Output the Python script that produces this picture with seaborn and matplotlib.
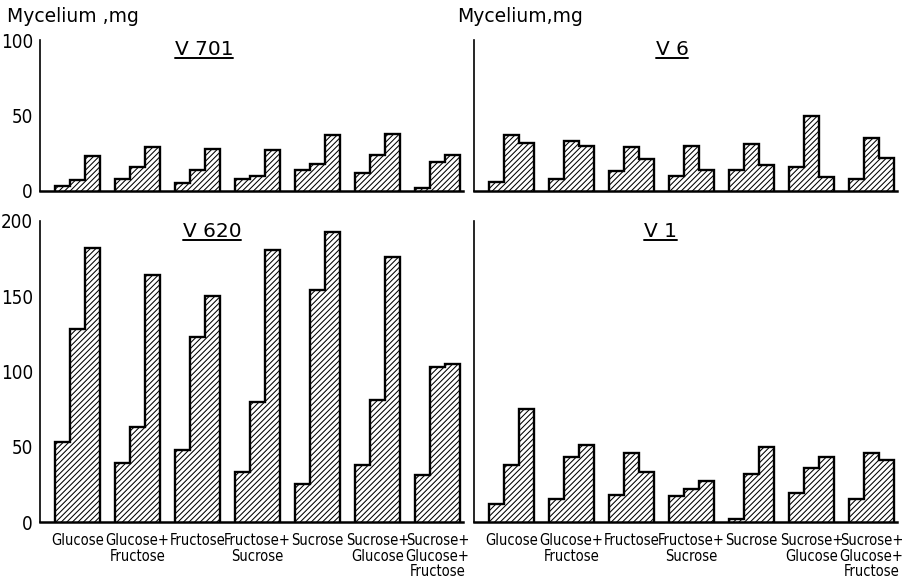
import matplotlib
matplotlib.use("Agg")
import matplotlib.pyplot as plt
from matplotlib import font_manager
import pandas as pd
import seaborn as sns

# Carbon sources tested
sugars = ["Glucose", "Glucose+\nFructose", "Fructose", "Fructose+\nSucrose",
          "Sucrose", "Sucrose+\nGlucose", "Sucrose+\nGlucose+\nFructose"]

# Mycelium dry weight (mg) at three successive harvests, per carbon source
v701 = [[3, 7, 23], [8, 16, 29], [5, 14, 28], [8, 10, 27],
        [14, 18, 37], [12, 24, 38], [2, 19, 24]]
v6 = [[6, 37, 32], [8, 33, 30], [13, 29, 21], [10, 30, 14],
      [14, 31, 17], [16, 50, 9], [8, 35, 22]]
v620 = [[53, 128, 182], [39, 63, 164], [48, 123, 150], [33, 80, 181],
        [25, 154, 193], [38, 81, 176], [31, 103, 105]]
v1 = [[12, 38, 75], [15, 43, 51], [18, 46, 33], [17, 22, 27],
      [2, 32, 50], [19, 36, 43], [15, 46, 41]]

sns.set_theme(style="white")
plt.rcParams["hatch.linewidth"] = 0.75
plt.rcParams["font.family"] = ["DejaVu Sans"]

# pick a narrow face for the tick labels if one is available
entries = font_manager.fontManager.ttflist
names = {f.name for f in entries}
condensed_dejavu = any(f.name == "DejaVu Sans" and str(f.stretch) in ("condensed", "semi-condensed", "500")
                       for f in entries)
if "Liberation Sans Narrow" in names:
    NARROW = dict(family=["Liberation Sans Narrow", "DejaVu Sans"], stretch="normal")
    XSIZE, YSIZE = 12, 14
elif condensed_dejavu:
    NARROW = dict(family=["DejaVu Sans"], stretch="condensed")
    XSIZE, YSIZE = 10.5, 13.5
else:
    NARROW = dict(family=["Liberation Sans", "DejaVu Sans"], stretch="normal")
    XSIZE, YSIZE = 9.4, 12

W, H = 909, 583
fig = plt.figure(figsize=(W / 100, H / 100), dpi=100)

BW = 0.25          # bar width in group units
OFF = 0.25         # gap before the first bar of a group
XMAX = 7.05


def make_axes(x_px, y0_px, y1_px):
    return fig.add_axes([x_px / W, 1 - y0_px / H, XMAX * 60 / W, (y0_px - y1_px) / H])


def panel(ax, vals, ymax, yticks, show_ylabels, show_xlabels):
    rows = []
    for g, triple in enumerate(vals):
        for k, v in enumerate(triple):
            rows.append({"pos": g + OFF + BW * k + BW / 2, "val": v})
    df = pd.DataFrame(rows)
    sns.barplot(data=df, x="pos", y="val", native_scale=True, width=1.0,
                color="white", saturation=1, edgecolor="black", linewidth=0,
                hatch="//////", errorbar=None, ax=ax)
    # stepped outline around each group of three harvests
    for g, triple in enumerate(vals):
        x0 = g + OFF
        xs, ys = [x0], [0]
        for k, v in enumerate(triple):
            xs += [x0 + BW * k, x0 + BW * (k + 1)]
            ys += [v, v]
        xs.append(x0 + BW * len(triple))
        ys.append(0)
        ax.plot(xs, ys, color="black", lw=1.7, solid_joinstyle="miter",
                solid_capstyle="butt", zorder=3)
    ax.set_xlim(0, XMAX)
    ax.set_ylim(0, ymax)
    ax.set_xlabel("")
    ax.set_ylabel("")
    for s in ("top", "right"):
        ax.spines[s].set_visible(False)
    ax.spines["left"].set_linewidth(1.2)
    ax.spines["bottom"].set_linewidth(1.8)
    ax.spines["left"].set_color("black")
    ax.spines["bottom"].set_color("black")
    ax.set_yticks(yticks)
    ax.tick_params(axis="y", direction="out", length=4, width=1.2, color="black",
                   labelleft=show_ylabels, labelsize=YSIZE, pad=1, labelcolor="black")
    for t in ax.get_yticklabels():
        t.set_family(NARROW["family"])
        t.set_stretch(NARROW["stretch"])
    if show_xlabels:
        ax.set_xticks([g + OFF + 1.5 * BW for g in range(len(sugars))])
        ax.set_xticklabels(sugars, fontsize=XSIZE, family=NARROW["family"],
                           stretch=NARROW["stretch"], linespacing=1.05,
                           va="top", ha="center", color="black")
        ax.tick_params(axis="x", length=0, pad=8)
    else:
        ax.set_xticks([])
    ax.patch.set_alpha(0)


ax_tl = make_axes(40, 191, 40)
ax_tr = make_axes(474, 191, 40)
ax_bl = make_axes(40, 522, 221)
ax_br = make_axes(474, 522, 221)

panel(ax_tl, v701, 100, [0, 50, 100], True, False)
panel(ax_tr, v6, 100, [0, 50, 100], False, False)
panel(ax_bl, v620, 200, [0, 50, 100, 150, 200], True, True)
panel(ax_br, v1, 200, [0, 50, 100, 150, 200], False, True)

fig.text(7 / W, 1 - 22 / H, "Mycelium ,mg", fontsize=13.5, va="baseline", ha="left", color="black")
fig.text(457 / W, 1 - 22 / H, "Mycelium,mg", fontsize=13.5, va="baseline", ha="left", color="black")

titles = [("V 701", 204, 55), ("V 6", 672, 55), ("V 620", 212, 237), ("V 1", 660, 237)]
title_objs = []
for txt, cx, by in titles:
    title_objs.append(fig.text(cx / W, 1 - by / H, txt, fontsize=14.5,
                               va="baseline", ha="center", color="black"))

fig.canvas.draw()
renderer = fig.canvas.get_renderer()
for t, (txt, cx, by) in zip(title_objs, titles):
    bb = t.get_window_extent(renderer)
    yline = (H - by - 3) / H
    fig.add_artist(plt.Line2D([bb.x0 / W, bb.x1 / W], [yline, yline],
                              color="black", lw=1.4, transform=fig.transFigure))

fig.savefig("out.png", dpi=100, facecolor="white")
